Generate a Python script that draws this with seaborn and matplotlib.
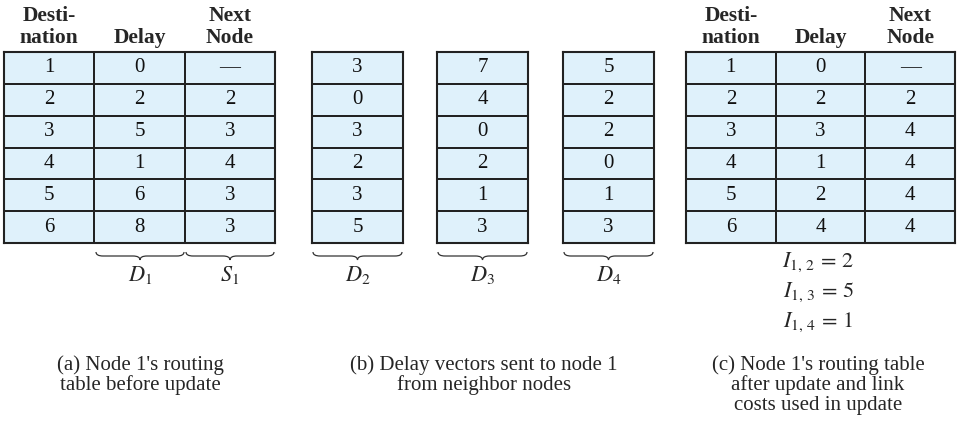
import numpy as np
import seaborn as sns
import matplotlib.pyplot as plt
from matplotlib.colors import ListedColormap
from matplotlib.path import Path
from matplotlib.patches import PathPatch

# Data
destinations = [1, 2, 3, 4, 5, 6]
delay_before = [0, 2, 5, 1, 6, 8]
next_before = ["—", 2, 3, 4, 3, 3]
d2_vector = [3, 0, 3, 2, 3, 5]
d3_vector = [7, 4, 0, 2, 1, 3]
d4_vector = [5, 2, 2, 0, 1, 3]
delay_after = [0, 2, 3, 1, 2, 4]
next_after = ["—", 2, 4, 4, 4, 4]
link_nodes = [2, 3, 4]
link_costs = [2, 5, 1]
headers = ["Desti-\nnation", "Delay", "Next\nNode"]
captions = [
    "(a) Node 1's routing\ntable before update",
    "(b) Delay vectors sent to node 1\nfrom neighbor nodes",
    "(c) Node 1's routing table\nafter update and link\ncosts used in update",
]

W, H = 960, 423
CELL = "#dff1fb"
EDGE = "#222222"
TOP, BOTTOM = 52, 243

sns.set_theme(style="white")
plt.rcParams["font.family"] = ["Liberation Serif", "DejaVu Serif"]
plt.rcParams["mathtext.fontset"] = "stix"

fig = plt.figure(figsize=(W / 100, H / 100), dpi=100)

# overlay in pixel coordinates for braces and captions
over = fig.add_axes([0, 0, 1, 1])
over.set_xlim(0, W)
over.set_ylim(H, 0)
over.axis("off")


def px_axes(x0, x1, y0=TOP, y1=BOTTOM):
    return fig.add_axes([x0 / W, 1 - y1 / H, (x1 - x0) / W, (y1 - y0) / H])


def draw_table(x0, x1, columns, labels=None):
    ax = px_axes(x0, x1)
    annot = np.array([[str(v) for v in col] for col in columns]).T
    values = np.zeros(annot.shape)
    sns.heatmap(values, ax=ax, cmap=ListedColormap([CELL]), cbar=False,
                annot=annot, fmt="", linewidths=1.3, linecolor=EDGE,
                annot_kws={"fontsize": 15, "color": "#111111",
                           "family": "Liberation Serif"},
                xticklabels=labels if labels else False, yticklabels=False)
    for s in ax.spines.values():
        s.set_visible(True)
        s.set_color(EDGE)
        s.set_linewidth(1.5)
    if labels:
        ax.xaxis.tick_top()
        ax.tick_params(axis="x", length=0, pad=3)
        for t in ax.get_xticklabels():
            t.set_fontweight("bold")
            t.set_fontsize(15.5)
            t.set_rotation(0)
            t.set_linespacing(1.15)
    return ax


def brace(x0, x1, y0=252, h=8, r=7):
    xm = (x0 + x1) / 2
    ym = y0 + h / 2
    verts = [(x0, y0), (x0, ym), (x0 + r, ym),
             (xm - r, ym),
             (xm, ym), (xm, y0 + h),
             (xm, ym), (xm + r, ym),
             (x1 - r, ym),
             (x1, ym), (x1, y0)]
    codes = [Path.MOVETO, Path.CURVE3, Path.CURVE3,
             Path.LINETO,
             Path.CURVE3, Path.CURVE3,
             Path.CURVE3, Path.CURVE3,
             Path.LINETO,
             Path.CURVE3, Path.CURVE3]
    over.add_patch(PathPatch(Path(verts, codes), fill=False, lw=0.9, ec="#333333"))


# (a) routing table before update
draw_table(4, 275, [destinations, delay_before, next_before], headers)
# (b) delay vectors from neighbours
draw_table(312, 403, [d2_vector])
draw_table(437, 528, [d3_vector])
draw_table(563, 654, [d4_vector])
# (c) routing table after update
draw_table(686, 955, [destinations, delay_after, next_after], headers)

# braces with vector names
for (x0, x1), name in zip([(95, 185), (185, 275), (312, 403), (437, 528), (563, 654)],
                          ["$D_1$", "$S_1$", "$D_2$", "$D_3$", "$D_4$"]):
    brace(x0 + 1, x1 - 1)
    over.text((x0 + x1) / 2, 275, name, ha="center", va="center", fontsize=16)

# link costs
for i, (node, cost) in enumerate(zip(link_nodes, link_costs)):
    over.text(818, 262 + 30 * i, rf"$I_{{1,\,{node}}}\,=\,{cost}$",
              ha="center", va="center", fontsize=16)

for xc, text in zip([140, 484, 818], captions):
    over.text(xc, 355, text, ha="center", va="top", fontsize=15, linespacing=1.03)

fig.savefig("out.png", dpi=100)
